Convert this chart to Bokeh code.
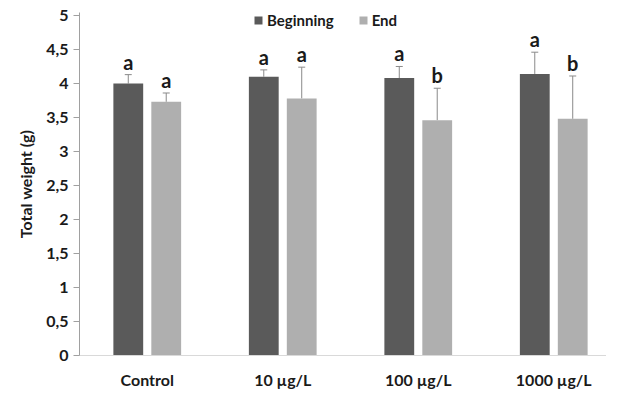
from bokeh.plotting import figure
from bokeh.models import (ColumnDataSource, FixedTicker, Range1d, Whisker, TeeHead,
                          Legend, LegendItem)
from bokeh.core.properties import value
from bokeh.embed import file_html
from bokeh.resources import INLINE

groups = ["Control", "10 µg/L", "100 µg/L", "1000 µg/L"]
beginning = [4.00, 4.10, 4.08, 4.14]
beginning_err = [0.13, 0.10, 0.17, 0.32]
end = [3.73, 3.78, 3.46, 3.48]
end_err = [0.13, 0.46, 0.47, 0.63]
letters_beginning = ["a", "a", "a", "a"]
letters_end = ["a", "a", "b", "b"]
y_ticks = [0, 0.5, 1, 1.5, 2, 2.5, 3, 3.5, 4, 4.5, 5]
y_tick_labels = ["0", "0,5", "1", "1,5", "2", "2,5", "3", "3,5", "4", "4,5", "5"]

FONT = "Lato"
DARK = "#5a5a5a"
LIGHT = "#afafaf"
TXT = "#1a1a1a"
OFF = 0.14
W = 0.22

centers = [i + 0.5 for i in range(len(groups))]
xb = [c - OFF for c in centers]
xe = [c + OFF for c in centers]

src_b = ColumnDataSource(dict(x=xb, top=beginning,
                              up=[v + e for v, e in zip(beginning, beginning_err)],
                              lab=letters_beginning))
src_e = ColumnDataSource(dict(x=xe, top=end,
                              up=[v + e for v, e in zip(end, end_err)],
                              lab=letters_end))

TOP, BOT, LEFT = 12, 33, 79
H, Wd = 391, 606
FH = H - TOP - BOT
FW = Wd - LEFT
PX_PER_UNIT_Y = 68.6
p = figure(width=Wd, height=H, output_backend="svg", toolbar_location=None,
           x_range=Range1d(0, FW / 135.5), y_range=Range1d(0, FH / PX_PER_UNIT_Y),
           min_border_left=LEFT, min_border_right=0, min_border_top=TOP,
           min_border_bottom=BOT)
p.outline_line_color = None
p.xgrid.visible = False
p.ygrid.visible = False

rb = p.vbar(x="x", top="top", width=W, source=src_b, fill_color=DARK, line_color=None)
re_ = p.vbar(x="x", top="top", width=W, source=src_e, fill_color=LIGHT, line_color=None)

for src in (src_b, src_e):
    wk = Whisker(base="x", lower="top", upper="up", source=src, line_color="#8a8a8a",
                 line_width=1, lower_head=None,
                 upper_head=TeeHead(size=7, line_color="#8a8a8a", line_width=1))
    p.add_layout(wk)
    p.text(x="x", y="up", text="lab", source=src, text_align="center",
           text_baseline="bottom", y_offset=-1, text_font=value(FONT),
           text_font_style="bold", text_font_size="20px", text_color=TXT)

# axes
p.yaxis.ticker = FixedTicker(ticks=y_ticks)
p.yaxis.major_label_overrides = {t: l for t, l in zip(y_ticks, y_tick_labels)}
p.yaxis.axis_line_color = "#a0a0a0"
p.yaxis.major_tick_line_color = "#a0a0a0"
p.yaxis.major_tick_in = 0
p.yaxis.major_tick_out = 6
p.yaxis.minor_tick_line_color = None
p.yaxis.major_label_text_font = FONT
p.yaxis.major_label_text_font_style = "bold"
p.yaxis.major_label_text_font_size = "16px"
p.yaxis.major_label_text_color = TXT
p.yaxis.major_label_standoff = 5
p.yaxis.axis_label = "Total weight (g)"
p.yaxis.axis_label_text_font = FONT
p.yaxis.axis_label_text_font_style = "bold"
p.yaxis.axis_label_text_font_size = "16px"
p.yaxis.axis_label_text_color = TXT
p.yaxis.axis_label_standoff = 8

p.xaxis.ticker = FixedTicker(ticks=centers)
p.xaxis.major_label_overrides = {c: g for c, g in zip(centers, groups)}
p.xaxis.axis_line_color = "#d9d9d9"
p.xaxis.major_tick_line_color = None
p.xaxis.minor_tick_line_color = None
p.xaxis.major_label_text_font = FONT
p.xaxis.major_label_text_font_style = "bold"
p.xaxis.major_label_text_font_size = "16px"
p.xaxis.major_label_text_color = TXT
p.xaxis.major_label_standoff = 8

legend = Legend(items=[LegendItem(label="Beginning", renderers=[rb]),
                       LegendItem(label="End", renderers=[re_])],
                orientation="horizontal", location=(174, FH - 20),
                glyph_width=10, glyph_height=10, label_height=18, label_width=10,
                label_standoff=4, spacing=24, padding=0, margin=0,
                border_line_color=None, background_fill_alpha=0,
                label_text_font=FONT, label_text_font_style="bold",
                label_text_font_size="15px", label_text_color=TXT)
p.add_layout(legend)

open("out.html", "w").write(file_html(p, INLINE))
